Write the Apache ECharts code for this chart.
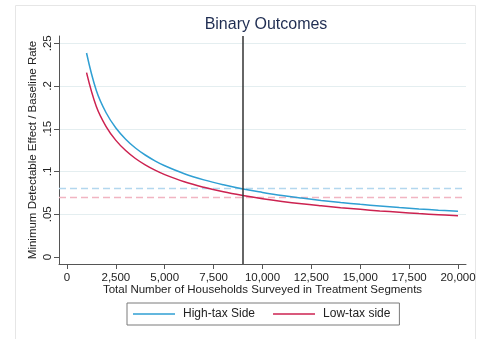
<!DOCTYPE html>
<html>
<head>
<meta charset="utf-8">
<script src="https://cdn.jsdelivr.net/npm/echarts@6/dist/echarts.min.js"></script>
<style>html,body{margin:0;padding:0;background:#fff;}#c{width:479px;height:339px;}</style>
</head>
<body>
<div id="c"></div>
<script>
// Data
var households = [1000, 1500, 2000, 2500, 3000, 3500, 4000, 4500, 5000, 6000, 7000, 8000, 9000, 10000, 11000, 12000, 13000, 14000, 15000, 16000, 17000, 18000, 19000, 20000];
var highTax = [0.2386, 0.1948, 0.1687, 0.1509, 0.1378, 0.1275, 0.1193, 0.1125, 0.1067, 0.0974, 0.0902, 0.0844, 0.0795, 0.0755, 0.0719, 0.0689, 0.0662, 0.0638, 0.0616, 0.0597, 0.0579, 0.0562, 0.0547, 0.0534];
var lowTax = [0.2156, 0.1760, 0.1525, 0.1364, 0.1245, 0.1152, 0.1078, 0.1016, 0.0964, 0.0880, 0.0815, 0.0762, 0.0719, 0.0682, 0.0650, 0.0622, 0.0598, 0.0576, 0.0557, 0.0539, 0.0523, 0.0508, 0.0495, 0.0482];
var highTaxAt9000 = 0.0795;
var lowTaxAt9000 = 0.0715;
var chosenN = 9000;
var xTicks = [0, 2500, 5000, 7500, 10000, 12500, 15000, 17500, 20000];
var yTicks = [0, 0.05, 0.1, 0.15, 0.2, 0.25];
var yTickLabels = ['0', '.05', '.1', '.15', '.2', '.25'];
var seriesNames = ['High-tax Side', 'Low-tax side'];

var BLUE = '#2f9fd3', RED = '#cc2250';
var FONT = 'Liberation Sans';

function pairs(xs, ys) { return xs.map(function (x, i) { return [x, ys[i]]; }); }

var chart = echarts.init(document.getElementById('c'), null, {renderer: 'canvas'});
chart.setOption({
  animation: false,
  backgroundColor: '#fff',
  title: {
    text: 'Binary Outcomes', left: 261, top: 12, textAlign: 'center',
    textStyle: {fontFamily: FONT, fontSize: 16, fontWeight: 'normal', color: '#1f2d52'}
  },
  graphic: [{
    type: 'rect', left: 13, top: 3, shape: {width: 460, height: 345},
    style: {fill: 'none', stroke: '#e6e6e6', lineWidth: 1}, silent: true, z: -1
  }],
  grid: {left: 59, right: 13, top: 36, bottom: 75},
  legend: {
    data: seriesNames, left: 127, top: 303, icon: 'rect',
    padding: [4, 9, 4, 6], itemGap: 18, itemWidth: 42, itemHeight: 1.5,
    borderColor: '#7a7a7a', borderWidth: 1, borderRadius: 0,
    textStyle: {fontFamily: FONT, fontSize: 12, color: '#222', padding: [0, 0, 0, 3], lineHeight: 14}
  },
  xAxis: {
    type: 'value', min: -409, max: 20409,
    name: 'Total Number of Households Surveyed in Treatment Segments',
    nameLocation: 'middle', nameGap: 20, nameMoveOverlap: false,
    nameTextStyle: {fontFamily: FONT, fontSize: 11.5, color: '#222', verticalAlign: 'top'},
    axisLine: {show: true, onZero: false, lineStyle: {color: '#555', width: 1}},
    axisTick: {show: true, length: 5, customValues: xTicks, lineStyle: {color: '#555'}},
    axisLabel: {
      customValues: xTicks, margin: 8, fontFamily: FONT, fontSize: 11.5, color: '#222',
      formatter: function (v) { return v.toLocaleString('en-US'); }
    },
    splitLine: {show: false}
  },
  yAxis: {
    type: 'value', min: -0.0082, max: 0.2585,
    name: 'Minimum Detectable Effect / Baseline Rate',
    nameLocation: 'middle', nameGap: 20, nameRotate: 90, nameMoveOverlap: false,
    nameTextStyle: {fontFamily: FONT, fontSize: 11.5, color: '#222', verticalAlign: 'bottom'},
    axisLine: {show: true, onZero: false, lineStyle: {color: '#555', width: 1}},
    axisTick: {show: true, length: 5, customValues: yTicks, lineStyle: {color: '#555'}},
    axisLabel: {
      customValues: yTicks, rotate: 90, margin: 5, fontFamily: FONT, fontSize: 11.5, color: '#222',
      formatter: function (v) { var i = yTicks.indexOf(v); return i >= 0 ? yTickLabels[i] : ''; }
    },
    splitLine: {show: false}
  },
  series: [
    {
      name: 'gridlines', type: 'line', data: [], z: 0, silent: true,
      markLine: {
        silent: true, symbol: 'none', label: {show: false}, animation: false, z: 0,
        lineStyle: {color: '#e4eef0', width: 1, type: 'solid'},
        data: yTicks.slice(1).map(function (v) { return {yAxis: v}; })
      }
    },
    {
      name: 'dashes', type: 'line', data: [], z: 1, silent: true,
      markLine: {
        silent: true, symbol: 'none', label: {show: false}, animation: false, z: 1,
        data: [
          {yAxis: highTaxAt9000, lineStyle: {color: '#b3d7ee', width: 1.3, type: [7, 4]}},
          {yAxis: lowTaxAt9000, lineStyle: {color: '#f1b5c2', width: 1.3, type: [7, 4]}}
        ]
      }
    },
    {
      name: seriesNames[0], type: 'line', data: pairs(households, highTax),
      smooth: 0.4, symbol: 'none', z: 3,
      lineStyle: {color: BLUE, width: 1.5}, itemStyle: {color: BLUE}
    },
    {
      name: seriesNames[1], type: 'line', data: pairs(households, lowTax),
      smooth: 0.4, symbol: 'none', z: 3,
      lineStyle: {color: RED, width: 1.5}, itemStyle: {color: RED}
    },
    {
      name: 'chosen', type: 'line', data: [], z: 4, silent: true,
      markLine: {
        silent: true, symbol: 'none', label: {show: false}, animation: false, z: 4,
        data: [{xAxis: chosenN, lineStyle: {color: '#333', width: 1.5, type: 'solid'}}]
      }
    }
  ]
});
</script>
</body>
</html>
